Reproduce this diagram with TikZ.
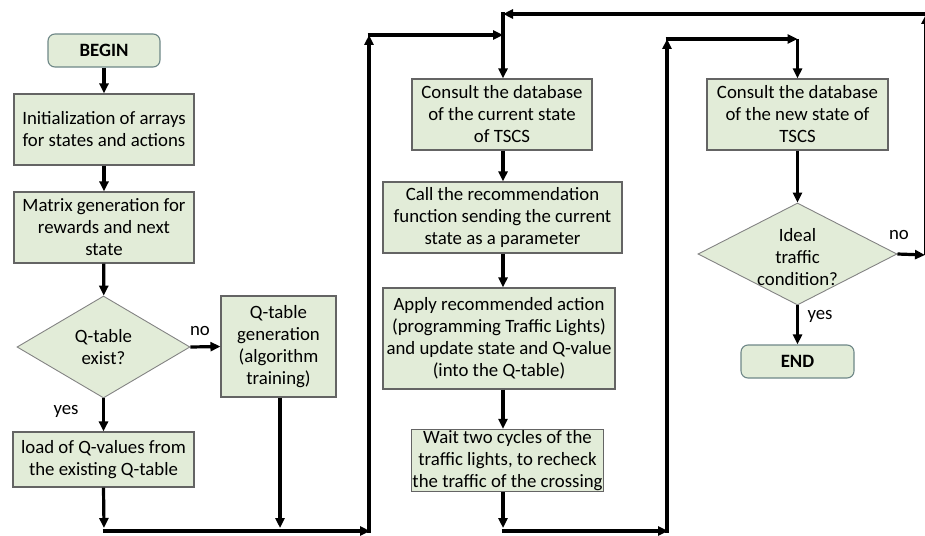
\documentclass[tikz,border=0pt]{standalone}
\usepackage{fontspec}
\setmainfont{Carlito}
\usetikzlibrary{shapes.geometric,arrows.meta}
\definecolor{boxfill}{RGB}{226,236,216}
\definecolor{boxline}{RGB}{100,100,100}
\definecolor{termline}{RGB}{110,135,135}
\tikzset{
  txt/.style={font=\fontsize{18.8}{22}\selectfont},
  base/.style={fill=boxfill,inner sep=1pt,align=center,txt},
  procbox/.style={base,draw=boxline,line width=1.1pt,rectangle},
  termbox/.style={base,draw=termline,line width=1.1pt,rectangle,rounded corners=7pt,font=\fontsize{18.8}{22}\selectfont\bfseries},
  decbox/.style={fill=boxfill,draw=boxline!80,line width=0.9pt,diamond,inner sep=0pt},
  conn/.style={line width=3.2pt,draw=black},
  arr/.style={conn,-{Triangle[length=10pt,width=9pt]}},
  lbl/.style={txt,align=center,inner sep=0pt}
}
\begin{document}
\begin{tikzpicture}[x=1pt,y=-1pt]
\useasboundingbox (0,0) rectangle (925,535);
% nodes
\node[termbox,minimum width=112pt,minimum height=33pt] (begin) at (104,50.5) {BEGIN};
\node[procbox,minimum width=180pt,minimum height=71pt] (init) at (104,129.5) {Initialization of arrays\\for states and actions};
\node[procbox,minimum width=180pt,minimum height=71pt] (matrix) at (104,227.5) {Matrix generation for\\rewards and next\\state};
\node[decbox,minimum width=173pt,minimum height=102pt] (d1) at (103.5,347) {};
\node[lbl] (d1t) at (d1) {Q-table\\exist?};
\node[procbox,minimum width=115pt,minimum height=101pt] (qgen) at (278.5,346.5) {Q-table\\generation\\(algorithm\\training)};
\node[procbox,minimum width=181pt,minimum height=55pt] (load) at (103.5,459.5) {load of Q-values from\\the existing Q-table};
\node[procbox,minimum width=180pt,minimum height=71pt] (c1) at (502,114.5) {Consult the database\\of the current state\\of TSCS};
\node[procbox,minimum width=239pt,minimum height=71pt] (call) at (502.5,217.5) {Call the recommendation\\function sending the current\\state as a parameter};
\node[procbox,minimum width=232pt,minimum height=101pt] (apply) at (499,338.5) {Apply recommended action\\(programming Traffic Lights)\\and update state and Q-value\\(into the Q-table)};
\node[procbox,minimum width=189pt,minimum height=61pt] (wait) at (507.5,460.5) {Wait two cycles of the\\traffic lights, to recheck\\the traffic of the crossing};
\node[procbox,minimum width=181pt,minimum height=71pt] (c2) at (797.5,114.5) {Consult the database\\of the new state of\\TSCS};
\node[decbox,minimum width=199pt,minimum height=102pt] (d2) at (797.5,254) {};
\node[lbl] (d2t) at (797.5,257) {Ideal\\traffic\\condition?};
\node[termbox,minimum width=113pt,minimum height=33pt] (end) at (797.5,361.5) {END};
% coordinates
\coordinate (b1) at (104,528);
\coordinate (b2) at (280,528);
\coordinate (bl) at (102.5,531);
\coordinate (br) at (370,531);
\coordinate (tl) at (369,35);
\coordinate (tr) at (503,35);
\coordinate (w1) at (503,528);
\coordinate (cl) at (501.5,531);
\coordinate (cr) at (668,531);
\coordinate (ul) at (667,39);
\coordinate (ur) at (797.5,39);
\coordinate (nr) at (925,255);
\coordinate (rv) at (926,255);
\coordinate (rt) at (926,14);
\coordinate (lt) at (503,14);
% connectors
\draw[arr] (begin) -- (init);
\draw[arr] (init) -- (matrix);
\draw[arr] (matrix) -- (d1);
\draw[arr] (d1.east) -- (qgen.west);
\node[lbl] (no1) at (200,331) {no};
\draw[arr] (d1.south) -- (load.north);
\node[lbl] (yes1) at (66,411) {yes};
\draw[arr] (load.south) -- (b1);
\draw[arr] (qgen.south -| b2) -- (b2);
\draw[arr] (bl) -- (br);
\draw[arr] (369,532.5) -- (tl);
\draw[arr] (367.5,35) -- (tr);
\draw[arr] (tr) -- (c1.north -| tr);
\draw[arr] (c1.south -| tr) -- (call.north -| tr);
\draw[arr] (call.south -| tr) -- (apply.north -| tr);
\draw[arr] (apply.south -| tr) -- (wait.north -| tr);
\draw[arr] (wait.south -| tr) -- (w1);
\draw[arr] (cl) -- (cr);
\draw[arr] (667,532.5) -- (ul);
\draw[arr] (665.5,39) -- (ur);
\draw[arr] (ur) -- (c2.north);
\draw[arr] (c2) -- (d2);
\draw[arr] (d2.east) -- (nr);
\node[lbl] (no2) at (899,235) {no};
\draw[arr] (d2.south) -- (end.north);
\node[lbl] (yes2) at (820,316) {yes};
\draw[arr] (rv) -- (rt);
\draw[arr] (925,14) -- (lt);
\draw[conn] (503,12.5) -- (tr);
\end{tikzpicture}
\end{document}
